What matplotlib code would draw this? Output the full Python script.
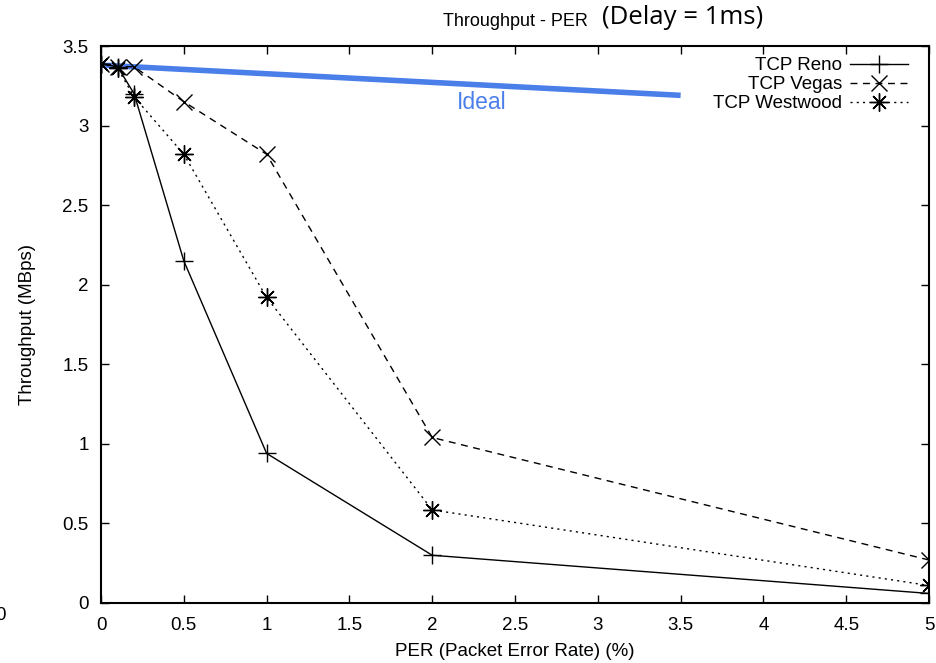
import matplotlib
matplotlib.use("Agg")
import matplotlib.pyplot as plt

# --- Data ---
per = [0, 0.1, 0.2, 0.5, 1, 2, 5]
reno = [3.39, 3.37, 3.20, 2.15, 0.94, 0.30, 0.06]
vegas = [3.39, 3.37, 3.37, 3.15, 2.82, 1.04, 0.27]
westwood = [3.39, 3.36, 3.18, 2.82, 1.92, 0.585, 0.11]

ideal_x = [0, 3.5]
ideal_y = [3.38, 3.19]

x_ticks = [0, 0.5, 1, 1.5, 2, 2.5, 3, 3.5, 4, 4.5, 5]
y_ticks = [0, 0.5, 1, 1.5, 2, 2.5, 3, 3.5]

plt.rcParams['font.family'] = ['Liberation Sans', 'DejaVu Sans']
FS = 13.5

fig = plt.figure(figsize=(9.37, 6.63), dpi=100)
ax = fig.add_axes([0.1078, 0.0905, 0.8837, 0.8401])

ax.plot(per, reno, color='black', linewidth=1.0, linestyle='-',
        marker='+', markersize=13, markeredgewidth=1.0, label='TCP Reno')
ax.plot(per, vegas, color='black', linewidth=1.0, linestyle=(0, (5, 4)),
        marker='x', markersize=12, markeredgewidth=1.0, label='TCP Vegas')
ax.plot(per, westwood, color='black', linewidth=1.0, linestyle=(0, (1.5, 3)),
        marker=(8, 2, 0), markersize=13, markeredgewidth=1.0, label='TCP Westwood')

# ideal reference line
ax.plot(ideal_x, ideal_y, color='#4a7fea', linewidth=4.0, solid_capstyle='butt', zorder=1)
ax.text(2.30, 3.145, 'Ideal', color='#4a7fea', fontsize=16.5, ha='center', va='center')

ax.set_xlim(0, 5)
ax.set_ylim(0, 3.5)
ax.set_xticks(x_ticks)
ax.set_xticklabels([f'{t:g}' for t in x_ticks])
ax.set_yticks(y_ticks)
ax.set_yticklabels([f'{t:g}' for t in y_ticks])
ax.tick_params(direction='in', length=6, width=1, top=True, right=True, labelsize=FS)
ax.tick_params(axis='x', pad=10)
ax.tick_params(axis='y', pad=9)
for s in ax.spines.values():
    s.set_linewidth(1.5)

ax.set_xlabel('PER (Packet Error Rate) (%)', fontsize=FS)
ax.set_ylabel('Throughput (MBps)', fontsize=FS)
ax.xaxis.set_label_coords(0.5, -0.071)
ax.yaxis.set_label_coords(-0.078, 0.5)

leg = ax.legend(loc='upper right', bbox_to_anchor=(0.9746, 0.98), frameon=False,
                markerfirst=False, handlelength=3.1, fontsize=FS, labelspacing=0.1,
                borderaxespad=0, borderpad=0, handletextpad=0.4)
for t in leg.get_texts():
    t.set_ha('right')
leg._legend_box.align = 'right'

# two-part title
fig.text(0.5496, 0.967, 'Throughput - PER', fontsize=13, ha='center', va='center')
fig.text(0.729, 0.973, '(Delay = 1ms)', fontsize=18.5, ha='center', va='center',
         family=['Open Sans', 'DejaVu Sans'])

# stray clipped label at the left edge
fig.text(0.0, 0.072, '0', fontsize=FS, ha='center', va='center')

fig.savefig('out.png', dpi=100)
